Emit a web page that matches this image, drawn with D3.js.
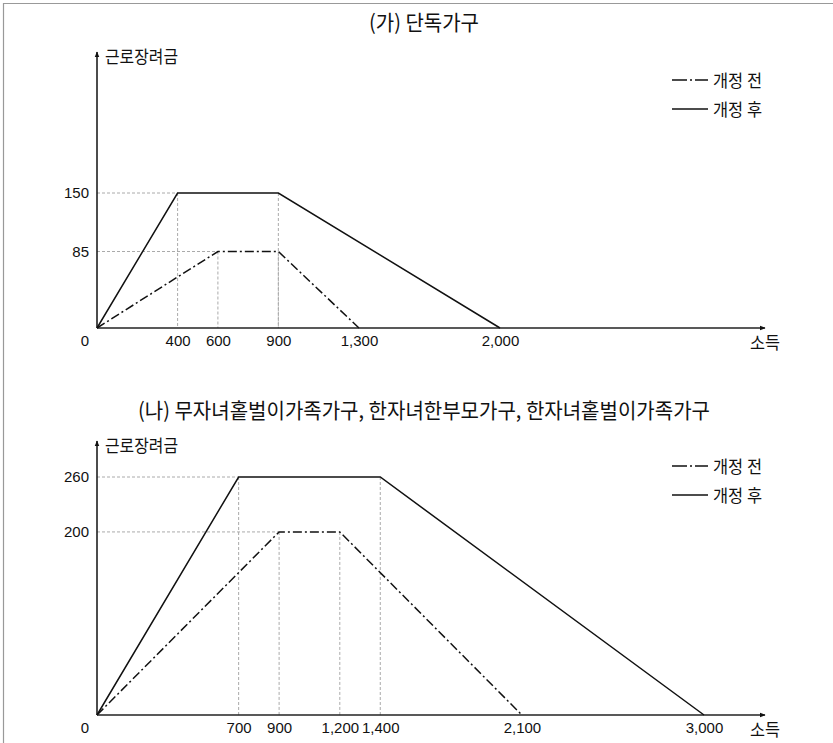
<!DOCTYPE html>
<html><head><meta charset="utf-8">
<script src="https://cdn.jsdelivr.net/npm/d3@7"></script>
<style>
html,body{margin:0;padding:0;background:#fff;}
svg{display:block;}
</style></head>
<body>
<svg id="chart" width="833" height="743"></svg>
<script>
// ---- data ----
const panelTitles = ["(가) 단독가구", "(나) 무자녀홑벌이가족가구, 한자녀한부모가구, 한자녀홑벌이가족가구"];
const yAxisLabel = "근로장려금";
const xAxisLabel = "소득";
const seriesNames = ["개정 전", "개정 후"];

// Panel (가)
const beforeIncomeA = [0, 600, 900, 1300];
const beforeAmountA = [0, 85, 85, 0];
const afterIncomeA  = [0, 400, 900, 2000];
const afterAmountA  = [0, 150, 150, 0];
const xTicksA = [400, 600, 900, 1300, 2000];
const yTicksA = [150, 85];

// Panel (나)
const beforeIncomeB = [0, 900, 1200, 2100];
const beforeAmountB = [0, 200, 200, 0];
const afterIncomeB  = [0, 700, 1400, 3000];
const afterAmountB  = [0, 260, 260, 0];
const xTicksB = [700, 900, 1200, 1400, 2100, 3000];
const yTicksB = [260, 200];

// ---- layout ----
const svg = d3.select("#chart");
const KFONT = "'Noto Sans CJK KR','Noto Sans',sans-serif";
const NFONT = "'Liberation Sans',Arial,sans-serif";

// border
svg.append("line").attr("x1",3).attr("x2",833).attr("y1",3.5).attr("y2",3.5).attr("stroke","#999").attr("stroke-width",1.2);
svg.append("line").attr("x1",3.5).attr("x2",3.5).attr("y1",3).attr("y2",743).attr("stroke","#999").attr("stroke-width",1.2);

const defs = svg.append("defs");
defs.append("marker").attr("id","arr").attr("viewBox","0 0 10 10").attr("refX",9).attr("refY",5)
  .attr("markerWidth",6).attr("markerHeight",6).attr("markerUnits","userSpaceOnUse").attr("orient","auto")
  .append("path").attr("d","M0,1 L10,5 L0,9 Z").attr("fill","#111");

const panels = [
  {title: panelTitles[0], titleY: 30, titleLen: 110,
   xDomain:[0,2000], xRange:[97,500], yDomain:[0,150], yRange:[328,193], yTop:52,
   xTicks:xTicksA, yTicks:yTicksA,
   before: beforeIncomeA.map((d,i)=>[d, beforeAmountA[i]]),
   after: afterIncomeA.map((d,i)=>[d, afterAmountA[i]]),
   legendY: 80},
  {title: panelTitles[1], titleY: 418, titleLen: 572,
   xDomain:[0,3000], xRange:[97,704], yDomain:[0,260], yRange:[715,477], yTop:441,
   xTicks:xTicksB, yTicks:yTicksB,
   before: beforeIncomeB.map((d,i)=>[d, beforeAmountB[i]]),
   after: afterIncomeB.map((d,i)=>[d, afterAmountB[i]]),
   legendY: 466}
];

panels.forEach(p => {
  const g = svg.append("g");
  const x = d3.scaleLinear().domain(p.xDomain).range(p.xRange);
  const y = d3.scaleLinear().domain(p.yDomain).range(p.yRange);
  const x0 = x(0), y0 = y(0);

  // title
  g.append("text").attr("x",424).attr("y",p.titleY).attr("text-anchor","middle")
    .attr("font-family",KFONT).attr("font-size",21).attr("fill","#111")
    .attr("textLength",p.titleLen).attr("lengthAdjust","spacingAndGlyphs").text(p.title);

  // guide lines (dotted)
  const guides = g.append("g").attr("stroke","#aaa").attr("stroke-width",1).attr("stroke-dasharray","3,2").attr("fill","none");
  [p.before, p.after].forEach(s => {
    const top = s.filter(d => d[1] === d3.max(s, e=>e[1]));
    guides.append("line").attr("x1",x0).attr("x2",x(top[0][0])).attr("y1",y(top[0][1])).attr("y2",y(top[0][1]));
    top.forEach(d => {
      guides.append("line").attr("x1",x(d[0])).attr("x2",x(d[0])).attr("y1",y(d[1])).attr("y2",y0);
    });
  });

  // axes (ticks via d3 axes)
  const xa = g.append("g").attr("transform",`translate(0,${y0})`)
    .call(d3.axisBottom(x).tickValues(p.xTicks).tickSize(0).tickPadding(7).tickFormat(d3.format(",")));
  xa.select(".domain").remove();
  xa.selectAll("text").attr("font-family",NFONT).attr("font-size",15).attr("fill","#111");
  const ya = g.append("g").attr("transform",`translate(${x0},0)`)
    .call(d3.axisLeft(y).tickValues(p.yTicks).tickSize(0).tickPadding(8));
  ya.select(".domain").remove();
  ya.selectAll("text").attr("font-family",NFONT).attr("font-size",15).attr("fill","#111");

  g.append("text").attr("x",x0-12).attr("y",y0+18).attr("text-anchor","middle")
    .attr("font-family",NFONT).attr("font-size",15).attr("fill","#111").text("0");

  // axis lines with arrows
  g.append("line").attr("x1",x0).attr("x2",x0).attr("y1",y0).attr("y2",p.yTop)
    .attr("stroke","#111").attr("stroke-width",1.5).attr("marker-end","url(#arr)");
  g.append("line").attr("x1",x0).attr("x2",765).attr("y1",y0).attr("y2",y0)
    .attr("stroke","#222").attr("stroke-width",1.5).attr("marker-end","url(#arr)");

  g.append("text").attr("x",105).attr("y",p.yTop+11).attr("font-family",KFONT).attr("font-size",17.5)
    .attr("fill","#111").attr("textLength",73).attr("lengthAdjust","spacingAndGlyphs").text(yAxisLabel);
  g.append("text").attr("x",750).attr("y",y0+21).attr("font-family",KFONT).attr("font-size",17.5)
    .attr("fill","#111").attr("textLength",30).attr("lengthAdjust","spacingAndGlyphs").text(xAxisLabel);

  // series
  const line = d3.line().x(d=>x(d[0])).y(d=>y(d[1]));
  g.append("path").datum(p.after).attr("d",line).attr("fill","none").attr("stroke","#111").attr("stroke-width",1.5);
  g.append("path").datum(p.before).attr("d",line).attr("fill","none").attr("stroke","#111").attr("stroke-width",1.5)
    .attr("stroke-dasharray","9,3,2,3");

  // legend
  const lg = g.append("g");
  seriesNames.forEach((n,i) => {
    const ly = p.legendY + i*29;
    lg.append("line").attr("x1",672).attr("x2",708).attr("y1",ly).attr("y2",ly)
      .attr("stroke","#111").attr("stroke-width",1.3).attr("stroke-dasharray", i===0 ? "15,3,2,3,15" : null);
    lg.append("text").attr("x",713).attr("y",ly+6.5).attr("font-family",KFONT).attr("font-size",17.5)
      .attr("fill","#111").attr("textLength",49).attr("lengthAdjust","spacingAndGlyphs").text(n);
  });
});
</script>
</body></html>
